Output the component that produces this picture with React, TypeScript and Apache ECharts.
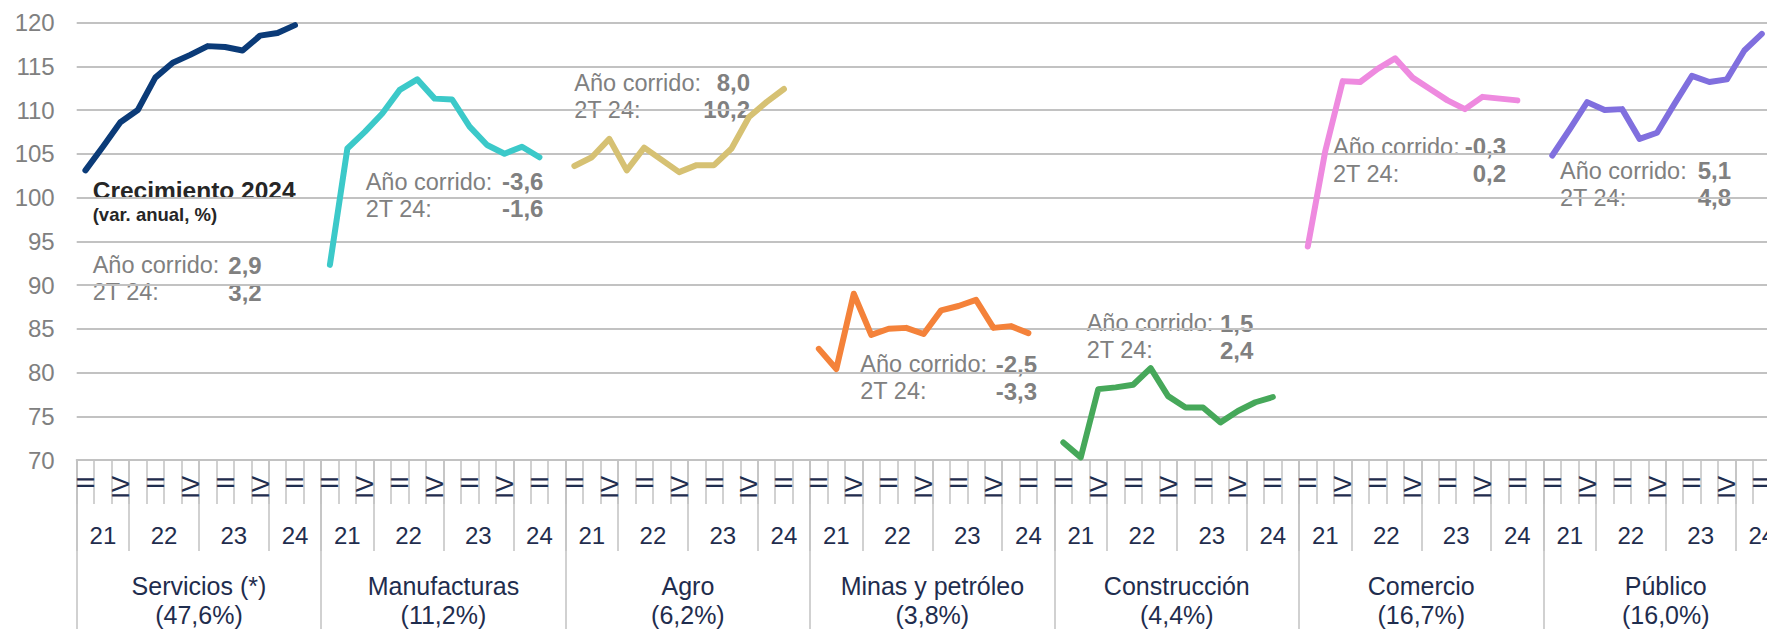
import React, { useEffect, useRef } from "react";
import * as echarts from "echarts";

// ---------- DATA ----------
const groups = ["Servicios (*)", "Manufacturas", "Agro", "Minas y petróleo", "Construcción", "Comercio", "Público"];
const shares = ["(47,6%)", "(11,2%)", "(6,2%)", "(3,8%)", "(4,4%)", "(16,7%)", "(16,0%)"];
const quarters = ["II", "III", "IV", "I", "II", "III", "IV", "I", "II", "III", "IV", "I", "II"];
const quarterYears = ["21", "21", "21", "22", "22", "22", "22", "23", "23", "23", "23", "24", "24"];
const yTicks = [70, 75, 80, 85, 90, 95, 100, 105, 110, 115, 120];

const servicios = [103.1, 105.8, 108.6, 110.0, 113.7, 115.4, 116.3, 117.3, 117.2, 116.8, 118.5, 118.8, 119.7];
const manufacturas = [92.3, 105.6, 107.5, 109.6, 112.3, 113.5, 111.3, 111.2, 108.1, 106.0, 105.0, 105.8, 104.6];
const agro = [103.6, 104.6, 106.7, 103.1, 105.7, 104.3, 102.9, 103.7, 103.7, 105.6, 109.2, 110.9, 112.4];
const minas = [82.7, 80.4, 89.0, 84.3, 85.0, 85.1, 84.4, 87.1, 87.6, 88.3, 85.1, 85.3, 84.5];
const construccion = [72.0, 70.3, 78.1, 78.3, 78.6, 80.5, 77.3, 76.0, 76.0, 74.3, 75.6, 76.6, 77.2];
const comercio = [94.4, 105.3, 113.3, 113.2, 114.7, 115.9, 113.7, 112.4, 111.1, 110.1, 111.5, 111.3, 111.1];
const publico = [104.8, 107.8, 110.9, 110.0, 110.1, 106.7, 107.4, 110.7, 113.9, 113.2, 113.5, 116.8, 118.7];

const anoCorrido = ["2,9", "-3,6", "8,0", "-2,5", "1,5", "-0,3", "5,1"];
const dosT24 = ["3,2", "-1,6", "10,2", "-3,3", "2,4", "0,2", "4,8"];

// ---------- STYLE ----------
const seriesValues = [servicios, manufacturas, agro, minas, construccion, comercio, publico];
const colors = ["#0B3B78", "#3CC9C9", "#D6C173", "#F4823A", "#46A85A", "#EE8ADF", "#806FDE"];
const FONT = '"Liberation Sans", Arial, sans-serif';
const NAVY = "#1F2D4E";
const GRAY = "#808080";
const GRID = "#c2c2c2";
const annoPos = [
  { x: 92.7, r: 261.7, y: 265 },
  { x: 365.7, r: 543.4, y: 181.7 },
  { x: 574.3, r: 750, y: 82.5 },
  { x: 860.3, r: 1037, y: 364 },
  { x: 1086.7, r: 1253.3, y: 323 },
  { x: 1333, r: 1506, y: 146.7 },
  { x: 1560, r: 1731, y: 170.8 },
];
const LINE_GAP = 27;

const SLOTS = quarters.length + 1; // one empty slot between groups

export default function App() {
  const ref = useRef<HTMLDivElement>(null);

  useEffect(() => {
    if (!ref.current) return;
    const chart = echarts.init(ref.current, null, { renderer: "svg" });

    const categories: string[] = [];
    groups.forEach((g, gi) => {
      for (let i = 0; i < SLOTS; i++) {
        categories.push(`${gi}|${i < quarters.length ? quarters[i] : ""}`);
      }
    });

    const yearList: string[] = [];
    quarterYears.forEach((y) => {
      if (!yearList.includes(y)) yearList.push(y);
    });
    const yearStarts = new Set<number>();
    const yearCenters: Record<number, string> = {};
    yearList.forEach((y, yi) => {
      const start = quarterYears.indexOf(y);
      const end = yi === yearList.length - 1 ? SLOTS : quarterYears.lastIndexOf(y) + 1;
      yearStarts.add(start);
      groups.forEach((_, gi) => {
        yearCenters[Math.round((gi * SLOTS + (start + end) / 2) * 2)] = y;
      });
    });

    const series = seriesValues.map((vals, gi) => ({
      type: "line",
      name: groups[gi],
      xAxisIndex: 0,
      yAxisIndex: 0,
      data: vals.map((v, i) => [gi * SLOTS + i, v]),
      showSymbol: false,
      symbol: "none",
      lineStyle: { color: colors[gi], width: 6, cap: "round", join: "round" },
      itemStyle: { color: colors[gi] },
      silent: true,
    }));

    const tickStyle = { color: GRID, width: 1.5 };
    const total = categories.length;

    const graphic: any[] = [
      {
        type: "text",
        x: 92.7,
        y: 190,
        silent: true,
        style: { text: "Crecimiento 2024", fill: "#262626", fontSize: 24.5, fontWeight: "bold", fontFamily: FONT, align: "left", verticalAlign: "middle" },
      },
      {
        type: "text",
        x: 92.7,
        y: 214,
        silent: true,
        style: { text: "(var. anual, %)", fill: "#262626", fontSize: 18.5, fontWeight: "bold", fontFamily: FONT, align: "left", verticalAlign: "middle" },
      },
    ];
    annoPos.forEach((p, gi) => {
      const rows: [string, string][] = [
        ["Año corrido:", anoCorrido[gi]],
        ["2T 24:", dosT24[gi]],
      ];
      rows.forEach(([label, val], ri) => {
        graphic.push({
          type: "text",
          x: p.x,
          y: p.y + ri * LINE_GAP,
          silent: true,
          style: { text: label, fill: GRAY, fontSize: 23.5, fontFamily: FONT, align: "left", verticalAlign: "middle" },
        });
        graphic.push({
          type: "text",
          x: p.r,
          y: p.y + ri * LINE_GAP,
          silent: true,
          style: { text: val, fill: GRAY, fontSize: 24, fontWeight: "bold", fontFamily: FONT, align: "right", verticalAlign: "middle" },
        });
      });
    });

    const option: any = {
      animation: false,
      grid: { left: 76.7, right: 1, top: 22.5, bottom: 168, containLabel: false },
      xAxis: [
        {
          type: "category",
          data: categories,
          boundaryGap: true,
          position: "bottom",
          axisLine: { show: true, onZero: false, lineStyle: { color: GRID, width: 2 } },
          axisTick: { show: true, interval: 0, length: 44, lineStyle: tickStyle },
          axisLabel: {
            interval: (i: number) => i % SLOTS < quarters.length && (i % SLOTS) % 2 === 0,
            rotate: 90,
            margin: 16,
            formatter: (v: string) => v.split("|")[1],
            color: NAVY,
            fontSize: 24,
            fontFamily: FONT,
          },
          splitLine: { show: false },
        },
        {
          type: "category",
          data: categories,
          boundaryGap: true,
          position: "bottom",
          axisLine: { show: false, onZero: false },
          axisTick: { show: true, interval: (i: number) => yearStarts.has(i % SLOTS), length: 91, lineStyle: tickStyle },
          axisLabel: { show: false },
          splitLine: { show: false },
        },
        {
          type: "category",
          data: categories,
          boundaryGap: true,
          position: "bottom",
          axisLine: { show: false, onZero: false },
          axisTick: { show: true, interval: (i: number) => i % SLOTS === 0, length: 175, lineStyle: tickStyle },
          axisLabel: { show: false },
          splitLine: { show: false },
        },
        {
          type: "value",
          min: 0,
          max: total,
          interval: 0.5,
          position: "bottom",
          axisLine: { show: false, onZero: false },
          axisTick: { show: false },
          splitLine: { show: false },
          axisLabel: {
            margin: 63,
            formatter: (v: number) => yearCenters[Math.round(v * 2)] || "",
            color: NAVY,
            fontSize: 24,
            fontFamily: FONT,
            showMinLabel: false,
            showMaxLabel: false,
          },
        },
        {
          type: "value",
          min: 0,
          max: total,
          interval: SLOTS / 2,
          position: "bottom",
          axisLine: { show: false, onZero: false },
          axisTick: { show: false },
          splitLine: { show: false },
          axisLabel: {
            margin: 111,
            lineHeight: 29,
            formatter: (v: number) => {
              const k = Math.round(v / (SLOTS / 2));
              if (k % 2 === 1) {
                const gi = (k - 1) / 2;
                return `${groups[gi]}\n${shares[gi]}`;
              }
              return "";
            },
            color: NAVY,
            fontSize: 25,
            fontFamily: FONT,
            showMinLabel: false,
            showMaxLabel: false,
          },
        },
      ],
      yAxis: {
        type: "value",
        min: yTicks[0],
        max: yTicks[yTicks.length - 1],
        interval: yTicks[1] - yTicks[0],
        axisLine: { show: false, onZero: false },
        axisTick: { show: false },
        axisLabel: { color: GRAY, fontSize: 24, fontFamily: FONT, margin: 22 },
        splitLine: { show: true, lineStyle: { color: GRID, width: 2 } },
      },
      series,
      graphic,
    };

    chart.setOption(option);
    return () => chart.dispose();
  }, []);

  return (
    <div style={{ position: "fixed", left: 0, top: 0, width: 1767, height: 629, overflow: "hidden", background: "#fff" }}>
      <div ref={ref} style={{ position: "absolute", left: 0, top: 0, width: 1789, height: 629 }} />
    </div>
  );
}
